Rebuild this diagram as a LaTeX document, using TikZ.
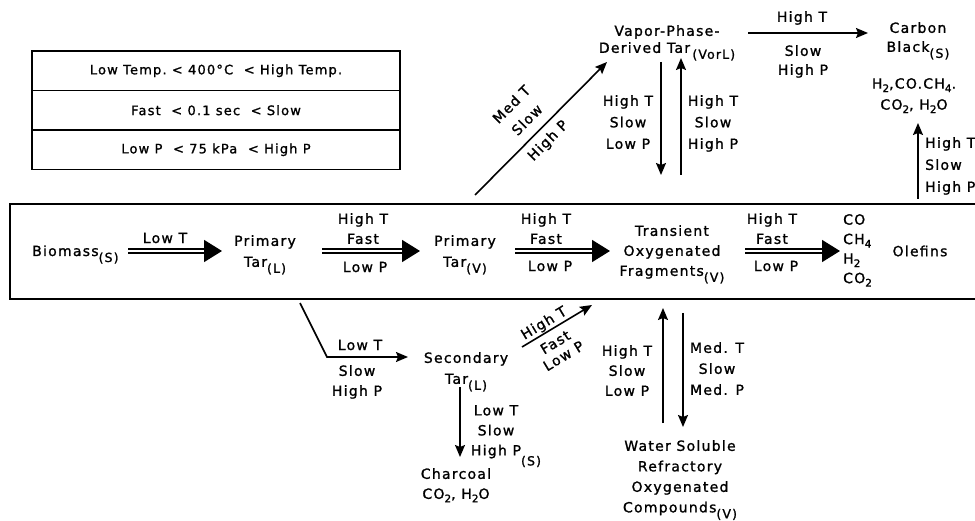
\documentclass[tikz,border=0pt]{standalone}
\usepackage{fontspec}
\setmainfont{DejaVu Sans}[LetterSpace=9, FakeBold=1.2]
\usetikzlibrary{arrows.meta}

% phase marks such as (S), (L), (V) set low after a word
\newcommand\phase[1]{\raisebox{-6pt}{\fontsize{12.5}{12.5}\selectfont(#1)}}
% chemical subscripts
\newcommand\chem[1]{\raisebox{-3.5pt}{\fontsize{10.5}{10.5}\selectfont #1}}
\newcommand\lsize[1]{\fontsize{14}{#1}\selectfont}

\tikzset{
  lbl/.style={inner sep=0pt, align=center, font=\lsize{21}},
  lead/.style={font=\lsize{#1}},
  arr/.style={line width=1.6pt, -{Stealth[length=12pt,width=10pt,inset=2pt]}},
  dbl/.style={double, double distance=2.8pt, line width=1.5pt,
              -{Triangle[length=18pt,width=22pt]}},
  frame/.style={line width=1.6pt},
  legrow/.style={draw, line width=1.4pt, minimum width=368pt, minimum height=39.5pt,
                 inner sep=0pt, font=\fontsize{13}{13}\selectfont},
}

\begin{document}
\begin{tikzpicture}[x=1pt,y=-1pt]
\useasboundingbox (0,0) rectangle (975,521);
\fill[white] (0,0) rectangle (975,521);

% legend of conditions
\node[legrow] (leg1) at (216,70.75) {Low Temp.\ < 400°C \ < High Temp.};
\node[legrow] (leg2) at (216,110.25) {Fast \ < 0.1 sec \ < Slow};
\node[legrow] (leg3) at (216,149.75) {Low P \ < 75 kPa \ < High P};

% frame of the main reaction row
\draw[frame] (976,204) -- (10,204) -- (10,299) -- (976,299);

% main row
\coordinate (rowy) at (0,251);
\node[lbl, anchor=base west] (bio) at (32,256) {Biomass\phase{S}};
\node[lbl, anchor=north] (ptl) at (265,235) {Primary\\Tar\phase{L}};
\node[lbl, anchor=north] (ptv) at (465,235) {Primary\\Tar\phase{V}};
\node[lbl, lead=20, anchor=north] (tof) at (672,225) {Transient\\Oxygenated\\Fragments\phase{V}};
\node[lbl, lead=19.5, anchor=north west, align=left] (gas) at (843,214) {CO\\CH\chem{4}\\H\chem{2}\\CO\chem{2}};
\node[lbl] (olef) at (920,251) {Olefins};

\draw[dbl] ([xshift=96pt]bio.west |- rowy) -- ([xshift=-43pt]ptl.center |- rowy);
\draw[dbl] ([xshift=57pt]ptl.center |- rowy) -- ([xshift=-45pt]ptv.center |- rowy);
\draw[dbl] ([xshift=50pt]ptv.center |- rowy) -- ([xshift=-62pt]tof.center |- rowy);
\draw[dbl] ([xshift=73pt]tof.center |- rowy) -- ([xshift=-3pt]gas.west |- rowy);

\node[lbl] (c1) at (165,238) {Low T};
\node[lbl, lead=20, anchor=north] (c2a) at (363,213) {High T\\Fast};
\node[lbl] (c2b) at (365,267) {Low P};
\node[lbl, lead=20, anchor=north] (c3a) at (546,213) {High T\\Fast};
\node[lbl] (c3b) at (550,266) {Low P};
\node[lbl, lead=20, anchor=north] (c4a) at (772,213) {High T\\Fast};
\node[lbl] (c4b) at (776,266) {Low P};

% upper branch
\node[lbl, lead=17, anchor=north] (vpt) at (667,25) {Vapor-Phase-\\Derived Tar\,\phase{VorL}};
\coordinate (dstart) at (475,195);
\draw[arr] (dstart) --
  node[pos=0.48, sloped, above=10pt, lbl, lead=22] (c5a) {Med T\\Slow}
  node[pos=0.48, sloped, below=6.5pt, lbl] (c5b) {High P}
  ([xshift=-60pt,yshift=-37pt]vpt.north);

\draw[arr] ([xshift=-6pt,yshift=-37pt]vpt.north) -- ([xshift=-11pt,yshift=50pt]tof.north);
\draw[arr] ([xshift=9pt,yshift=50pt]tof.north) -- ([xshift=14pt,yshift=-33pt]vpt.north);
\node[lbl, lead=21.5, anchor=north] (c6) at (628,95) {High T\\Slow\\Low P};
\node[lbl, lead=21.5, anchor=north] (c7) at (713,95) {High T\\Slow\\High P};

\node[lbl, lead=19, anchor=north] (cb) at (918,22) {Carbon\\Black\phase{S}};
\draw[arr] ([xshift=81pt,yshift=-8pt]vpt.north) -- ([xshift=-50pt,yshift=-11pt]cb.north);
\node[lbl] (c8a) at (802,18) {High T};
\node[lbl, lead=19, anchor=north] (c8b) at (803,45) {Slow\\High P};

\node[lbl, lead=21, anchor=north] (gas2) at (914,78) {H\chem{2},CO.CH\chem{4}.\\CO\chem{2}, H\chem{2}O};
\coordinate (olefup) at (918,199);
\draw[arr] (olefup) -- ([xshift=4pt,yshift=-45pt]gas2.north);
\node[lbl, lead=22, anchor=north west, align=left] (c9) at (925,137) {High T\\Slow\\High P};

% lower branch
\node[lbl, lead=21, anchor=north] (st) at (466,352) {Secondary\\Tar\phase{L}};
\coordinate (bstart) at (300,303);
\draw[arr] (bstart) -- ++(27,54) -- ([xshift=-58pt,yshift=-5pt]st.north);
\node[lbl] (c10a) at (360,345) {Low T};
\node[lbl, lead=20, anchor=north] (c10b) at (357,365) {Slow\\High P};

\draw[arr] ([xshift=56pt,yshift=5pt]st.north) --
  node[pos=0.38, sloped, above=1pt, lbl] (c11a) {High T}
  node[pos=0.38, sloped, below=7pt, lbl, lead=16] (c11b) {Fast\\Low P}
  ([xshift=-80pt,yshift=-80pt]tof.north);

\node[lbl, lead=20, anchor=north] (char) at (456,468) {Charcoal\\CO\chem{2}, H\chem{2}O};
\draw[arr] ([xshift=-6pt,yshift=-35pt]st.north) -- ([xshift=4pt,yshift=11pt]char.north);
\node[lbl, lead=20, anchor=north] (c12) at (496,405)
  {Low T\\Slow\\High P\rlap{\raisebox{-10pt}{\fontsize{12.5}{12.5}\selectfont(S)}}};

\node[lbl, lead=20.5, anchor=north] (ws) at (680,440) {Water Soluble\\Refractory\\Oxygenated\\Compounds\phase{V}};
\draw[arr] ([xshift=-17pt,yshift=17pt]ws.north) -- ([xshift=-9pt,yshift=-83pt]tof.north);
\draw[arr] ([xshift=11pt,yshift=-88pt]tof.north) -- ([xshift=3pt,yshift=13pt]ws.north);
\node[lbl, lead=20, anchor=north] (c13) at (627,345) {High T\\Slow\\Low P};
\node[lbl, lead=21, anchor=north] (c14) at (717,342) {Med. T\\Slow\\Med. P};
\end{tikzpicture}
\end{document}
